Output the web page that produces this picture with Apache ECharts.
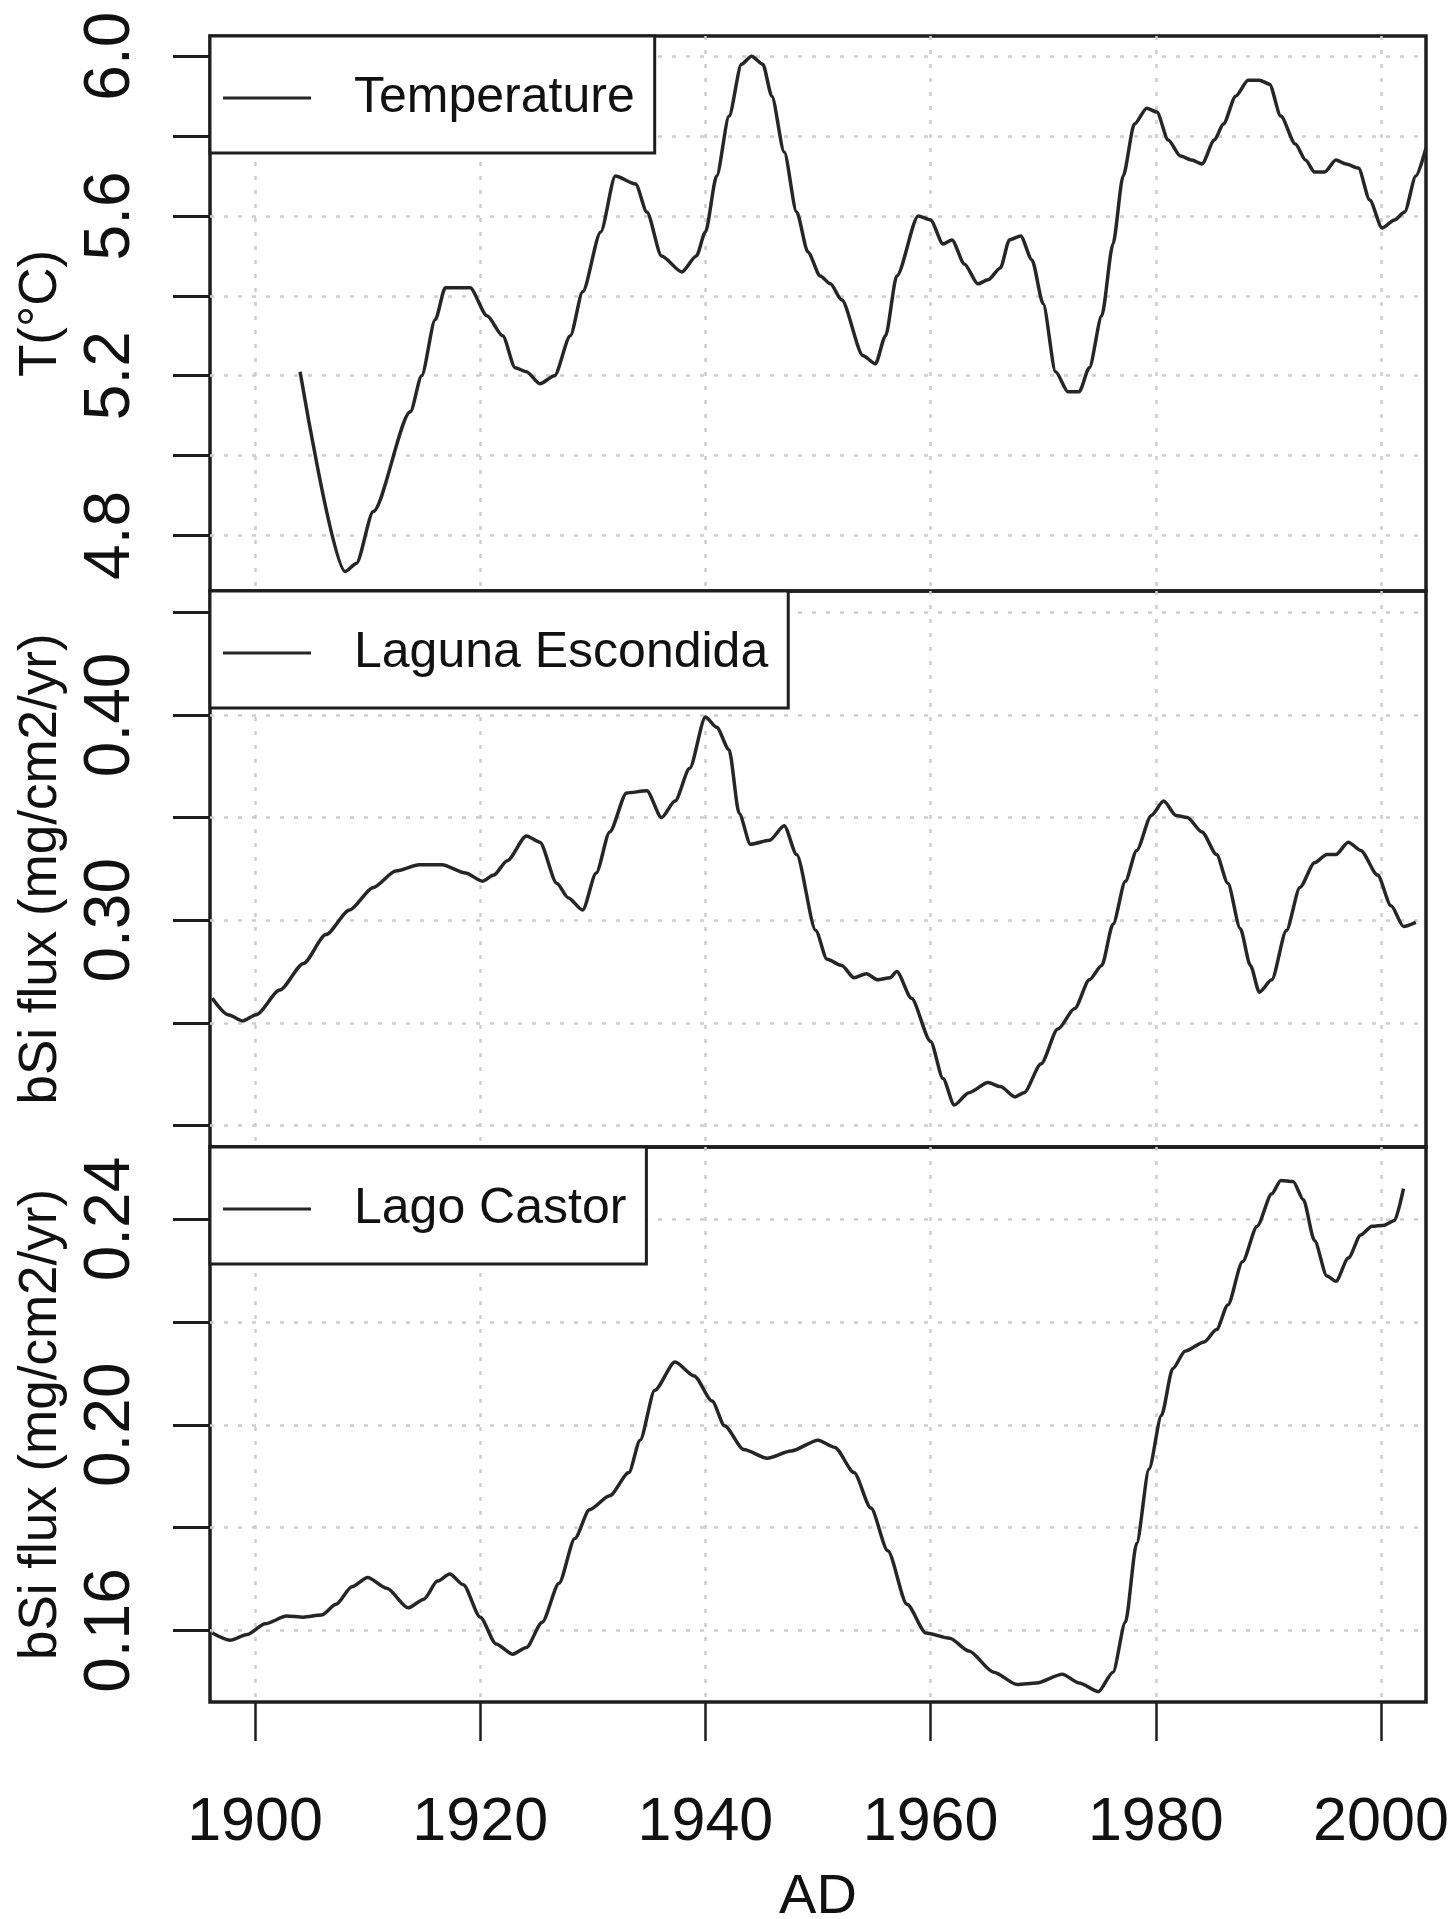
<!DOCTYPE html>
<html>
<head>
<meta charset="utf-8">
<script src="https://cdn.jsdelivr.net/npm/echarts@6/dist/echarts.min.js"></script>
<style>
  html, body { margin: 0; padding: 0; background: #fff; }
  #chart { width: 1453px; height: 1919px; }
</style>
</head>
<body>
<div id="chart"></div>
<script>
// Year axis (AD) shared by all three panels
const yearTicks = [1900, 1920, 1940, 1960, 1980, 2000];

// Reconstructed mean temperature
const tempYears = [1904.0, 1908.0, 1909.0, 1910.5, 1913.8, 1914.8, 1916.0, 1916.9, 1918.1, 1919.1,
  1920.6, 1922.0, 1923.1, 1924.1, 1925.3, 1926.6, 1928.0, 1929.1, 1930.7, 1932.0,
  1933.8, 1934.8, 1936.1, 1937.9, 1939.2, 1940.0, 1941.0, 1942.1, 1943.2, 1944.1,
  1945.1, 1945.9, 1947.0, 1948.1, 1949.1, 1950.2, 1951.1, 1952.1, 1954.0, 1955.1,
  1956.0, 1957.0, 1958.9, 1960.0, 1961.1, 1961.9, 1963.0, 1964.2, 1965.1, 1966.2,
  1967.0, 1968.0, 1969.0, 1970.0, 1971.1, 1972.2, 1973.2, 1974.1, 1975.2, 1976.2,
  1977.1, 1978.1, 1979.2, 1980.1, 1981.1, 1982.2, 1983.2, 1984.1, 1985.2, 1986.0,
  1987.1, 1988.2, 1989.2, 1990.1, 1991.1, 1992.4, 1993.3, 1994.1, 1995.0, 1996.0,
  1996.9, 1998.0, 1999.0, 2000.1, 2001.2, 2002.1, 2003.1, 2004.0];
const tempValues = [5.21, 4.71, 4.73, 4.86, 5.11, 5.20, 5.34, 5.42, 5.42, 5.42,
  5.35, 5.30, 5.22, 5.21, 5.18, 5.20, 5.30, 5.41, 5.56, 5.70,
  5.68, 5.61, 5.50, 5.46, 5.50, 5.56, 5.70, 5.85, 5.98, 6.00,
  5.98, 5.90, 5.76, 5.61, 5.51, 5.45, 5.43, 5.39, 5.25, 5.23,
  5.30, 5.45, 5.60, 5.59, 5.53, 5.54, 5.48, 5.43, 5.44, 5.47,
  5.54, 5.55, 5.49, 5.38, 5.21, 5.16, 5.16, 5.22, 5.35, 5.53,
  5.70, 5.83, 5.87, 5.86, 5.79, 5.75, 5.74, 5.73, 5.79, 5.83,
  5.90, 5.94, 5.94, 5.93, 5.85, 5.78, 5.74, 5.71, 5.71, 5.74,
  5.73, 5.72, 5.64, 5.57, 5.59, 5.61, 5.70, 5.77];

// Biogenic silica flux, Laguna Escondida
const escYears = [1896.2, 1897.6, 1898.9, 1900.1, 1902.2, 1904.3, 1906.3, 1908.4, 1910.5, 1912.5,
  1914.6, 1916.6, 1918.7, 1920.2, 1921.2, 1922.4, 1924.1, 1925.3, 1926.8, 1927.8,
  1929.1, 1930.3, 1931.5, 1933.0, 1934.8, 1936.1, 1937.3, 1938.6, 1940.0, 1941.0,
  1942.1, 1943.0, 1944.0, 1945.7, 1947.0, 1948.1, 1949.8, 1950.8, 1952.1, 1953.2,
  1954.3, 1955.3, 1956.4, 1957.0, 1958.3, 1960.0, 1961.1, 1962.1, 1963.4, 1965.1,
  1966.2, 1967.5, 1968.3, 1969.8, 1971.3, 1972.8, 1974.1, 1975.2, 1976.2, 1977.3,
  1978.3, 1979.6, 1980.7, 1981.8, 1982.8, 1984.1, 1985.4, 1986.4, 1987.5, 1988.4,
  1989.2, 1990.3, 1991.6, 1992.8, 1994.1, 1995.2, 1996.0, 1997.1, 1998.2, 1999.7,
  2000.9, 2002.0, 2003.1];
const escValues = [0.262, 0.254, 0.251, 0.254, 0.266, 0.279, 0.293, 0.305, 0.316, 0.324,
  0.327, 0.327, 0.323, 0.319, 0.322, 0.329, 0.341, 0.338, 0.318, 0.311,
  0.305, 0.323, 0.343, 0.362, 0.363, 0.350, 0.358, 0.374, 0.399, 0.394,
  0.383, 0.352, 0.337, 0.339, 0.346, 0.332, 0.295, 0.281, 0.278, 0.272,
  0.274, 0.271, 0.272, 0.275, 0.262, 0.241, 0.223, 0.210, 0.216, 0.221,
  0.219, 0.214, 0.216, 0.230, 0.247, 0.257, 0.271, 0.278, 0.298, 0.319,
  0.334, 0.351, 0.358, 0.351, 0.350, 0.343, 0.332, 0.318, 0.296, 0.278,
  0.265, 0.271, 0.295, 0.316, 0.328, 0.332, 0.332, 0.338, 0.334, 0.322,
  0.307, 0.297, 0.299];

// Biogenic silica flux, Lago Castor
const casYears = [1896.2, 1897.8, 1899.3, 1900.9, 1902.8, 1904.3, 1905.9, 1907.2, 1908.6, 1910.0,
  1911.7, 1913.6, 1915.0, 1916.2, 1917.3, 1918.5, 1920.0, 1921.4, 1922.9, 1924.1,
  1925.5, 1927.0, 1928.4, 1929.7, 1931.5, 1933.2, 1934.2, 1935.5, 1937.3, 1939.0,
  1940.6, 1941.7, 1943.4, 1945.5, 1947.6, 1950.0, 1951.5, 1953.2, 1954.7, 1956.2,
  1957.9, 1959.6, 1961.7, 1963.4, 1965.6, 1967.7, 1969.4, 1971.7, 1973.2, 1974.9,
  1976.2, 1977.3, 1978.3, 1979.4, 1980.5, 1981.5, 1982.6, 1984.3, 1985.4, 1986.4,
  1987.7, 1989.0, 1990.3, 1991.1, 1992.2, 1993.1, 1994.1, 1995.2, 1996.0, 1997.1,
  1998.2, 1999.2, 2000.3, 2001.2, 2002.0];
const casValues = [0.1595, 0.1581, 0.1592, 0.1613, 0.1628, 0.1626, 0.1630, 0.1651, 0.1685, 0.1703,
  0.1682, 0.1644, 0.1661, 0.1696, 0.1710, 0.1689, 0.1626, 0.1574, 0.1554, 0.1567,
  0.1616, 0.1692, 0.1779, 0.1835, 0.1862, 0.1907, 0.1970, 0.2067, 0.2122, 0.2095,
  0.2046, 0.1998, 0.1952, 0.1935, 0.1949, 0.1970, 0.1956, 0.1907, 0.1838, 0.1755,
  0.1651, 0.1595, 0.1585, 0.1560, 0.1519, 0.1495, 0.1498, 0.1515, 0.1498, 0.1481,
  0.1519, 0.1616, 0.1769, 0.1914, 0.2018, 0.2109, 0.2143, 0.2161, 0.2185, 0.2233,
  0.2317, 0.2386, 0.2449, 0.2475, 0.2473, 0.2438, 0.2358, 0.2289, 0.2279, 0.2324,
  0.2369, 0.2386, 0.2388, 0.2397, 0.2459];

// Tick positions and the subset that carries a label, per panel
const tempTicks = [4.8, 5.0, 5.2, 5.4, 5.6, 5.8, 6.0];
const tempLabels = [4.8, 5.2, 5.6, 6.0];
const escTicks = [0.20, 0.25, 0.30, 0.35, 0.40, 0.45];
const escLabels = [0.30, 0.40];
const casTicks = [0.16, 0.18, 0.20, 0.22, 0.24];
const casLabels = [0.16, 0.20, 0.24];

const zip = (xs, ys) => xs.map((x, i) => [x, ys[i]]);

const LINE = '#262626';
const AXIS = '#1e1e1e';
const GRIDC = '#cdcdcd';
const FONT = 'Liberation Sans, Arial, Helvetica, sans-serif';

const panels = [
  { top: 36, height: 555, min: 4.661, max: 6.0506, ticks: tempTicks, labels: tempLabels, digits: 1, name: 'T(°C)' },
  { top: 591, height: 556, min: 0.1896, max: 0.4603, ticks: escTicks, labels: escLabels, digits: 2, name: 'bSi flux (mg/cm2/yr)' },
  { top: 1147, height: 555, min: 0.1461, max: 0.2540, ticks: casTicks, labels: casLabels, digits: 2, name: 'bSi flux (mg/cm2/yr)' }
];

const splitStyle = { show: true, lineStyle: { color: GRIDC, width: 2.5, type: [4, 10] } };

const grid = panels.map(p => ({
  left: 210, right: 27, top: p.top, height: p.height,
  show: true, borderColor: AXIS, borderWidth: 3.5, backgroundColor: 'transparent',
  containLabel: false, outerBoundsMode: 'none'
}));

const xAxis = panels.map((p, i) => {
  const last = i === panels.length - 1;
  return {
    type: 'value', gridIndex: i, min: 1896, max: 2004,
    axisLine: { show: false },
    axisTick: { show: last, customValues: yearTicks, length: 39, lineStyle: { color: AXIS, width: 2.5 } },
    axisLabel: {
      show: last, customValues: yearTicks, margin: 91,
      fontFamily: FONT, fontSize: 61, color: '#111',
      formatter: v => String(Math.round(v))
    },
    splitLine: splitStyle,
    name: last ? 'AD' : '', nameLocation: 'middle', nameGap: 168,
    nameTextStyle: { fontFamily: FONT, fontSize: 56, color: '#111' }
  };
});

const yAxis = panels.map((p, i) => ({
  type: 'value', gridIndex: i, min: p.min, max: p.max,
  axisLine: { show: false },
  axisTick: { show: true, customValues: p.ticks, length: 37, lineStyle: { color: AXIS, width: 3 } },
  axisLabel: {
    show: true, customValues: p.labels, rotate: 90, margin: 67,
    fontFamily: FONT, fontSize: 64, color: '#111',
    formatter: v => v.toFixed(p.digits)
  },
  splitLine: splitStyle,
  name: p.name, nameLocation: 'middle', nameGap: 142,
  nameTextStyle: { fontFamily: FONT, fontSize: 53, color: '#111' }
}));

const seriesDefs = [
  { name: 'Temperature', data: zip(tempYears, tempValues) },
  { name: 'Laguna Escondida', data: zip(escYears, escValues) },
  { name: 'Lago Castor', data: zip(casYears, casValues) }
];

const series = seriesDefs.map((s, i) => ({
  name: s.name, type: 'line', xAxisIndex: i, yAxisIndex: i,
  data: s.data, symbol: 'none', smooth: 0.25, smoothMonotone: 'x',
  lineStyle: { color: LINE, width: 3.5 }, itemStyle: { color: LINE },
  clip: true, animation: false
}));

// Legend key: a plain horizontal stroke, as in a base-graphics legend
const legend = seriesDefs.map((s, i) => ({
  data: [{ name: s.name, icon: 'path://M0,0H88V3H0Z' }],
  left: 210, top: panels[i].top, orient: 'horizontal',
  selectedMode: false, backgroundColor: '#fff',
  borderColor: AXIS, borderWidth: 3, borderRadius: 0,
  padding: [34, 20, 27, 13],
  itemWidth: 88, itemHeight: 3,
  itemStyle: { color: LINE },
  textStyle: { fontFamily: FONT, fontSize: 50, color: '#111', lineHeight: 56, padding: [0, 0, 0, 38] }
}));

const chart = echarts.init(document.getElementById('chart'), null, { renderer: 'canvas' });
chart.setOption({
  animation: false,
  backgroundColor: '#fff',
  grid, xAxis, yAxis, series, legend
});
</script>
</body>
</html>
